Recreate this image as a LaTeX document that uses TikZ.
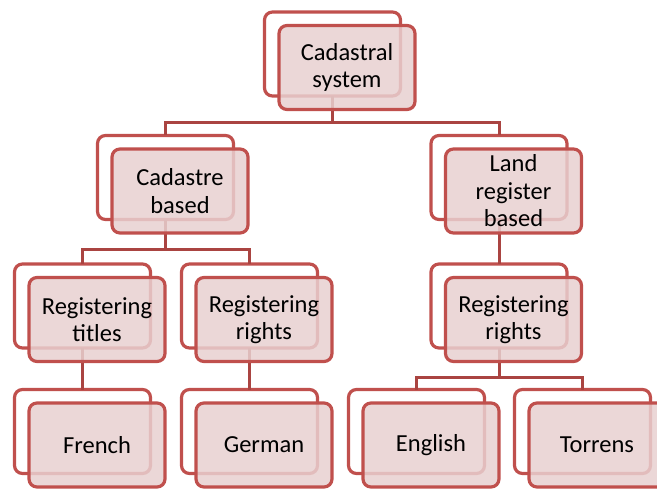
\documentclass[tikz,border=0pt]{standalone}
\usepackage{fontspec}
\setmainfont{Carlito}
\definecolor{boxred}{RGB}{192,80,77}
\definecolor{linkred}{RGB}{170,68,65}
\definecolor{boxpink}{RGB}{232,208,208}

\begin{document}
\begin{tikzpicture}[x=1bp,y=-1bp,
  backbox/.style={draw=boxred, line width=3.2bp, fill=white, rounded corners=8bp,
    minimum width=136bp, minimum height=84bp, inner sep=0pt, outer sep=0pt},
  frontbox/.style={backbox, fill=boxpink, fill opacity=0.85, text opacity=1,
    align=center, text=black, font=\fontsize{24.5bp}{27.5bp}\selectfont},
  link/.style={draw=linkred, line width=3bp},
  front/.style={shift={(14.5,13.5)}}]
\useasboundingbox (0,0) rectangle (657,491);

% outline boxes behind each label box
\node[backbox] (sys)  at (332.5,54)    {};
\node[backbox] (cad)  at (165.5,177.5) {};
\node[backbox] (land) at (499,177.5)   {};
\node[backbox] (rt)   at (82.5,306)    {};
\node[backbox] (rrl)  at (249.5,306)   {};
\node[backbox] (rrr)  at (499,306)     {};
\node[backbox] (fr)   at (82.5,431.5)  {};
\node[backbox] (ge)   at (249.5,431.5) {};
\node[backbox] (en)   at (416.5,431.5) {};
\node[backbox] (to)   at (582.5,431.5) {};

% hierarchy connectors
\path (sys.south) ++(0,27) coordinate (j1);
\draw[link] (sys.south) -- (j1);
\draw[link] (j1) -| (cad.north);
\draw[link] (j1) -| (land.north);

\path (cad.south) ++(0,29.5) coordinate (j2);
\draw[link] (cad.south) -- (j2);
\draw[link] (j2) -| (rt.north);
\draw[link] (j2) -| (rrl.north);

\draw[link] (land.south) -- (rrr.north);

\draw[link] (rt.south) -- (fr.north);
\draw[link] (rrl.south) -- (ge.north);

\path (rrr.south) ++(0,29) coordinate (j3);
\draw[link] (rrr.south) -- (j3);
\draw[link] (j3) -| (en.north);
\draw[link] (j3) -| (to.north);

% label boxes, offset down and right
\node[frontbox] (sysf)  at ([front]sys.center)  {Cadastral\\system};
\node[frontbox] (cadf)  at ([front]cad.center)  {Cadastre\\based};
\node[frontbox] (landf) at ([front]land.center) {Land\\register\\based};
\node[frontbox] (rtf)   at ([front]rt.center)   {Registering\\titles};
\node[frontbox] (rrlf)  at ([front]rrl.center)  {Registering\\rights};
\node[frontbox] (rrrf)  at ([front]rrr.center)  {Registering\\rights};
\node[frontbox] (frf)   at ([front]fr.center)   {French};
\node[frontbox] (gef)   at ([front]ge.center)   {German};
\node[frontbox] (enf)   at ([front]en.center)   {English};
\node[frontbox] (tof)   at ([front]to.center)   {Torrens};
\end{tikzpicture}
\end{document}
